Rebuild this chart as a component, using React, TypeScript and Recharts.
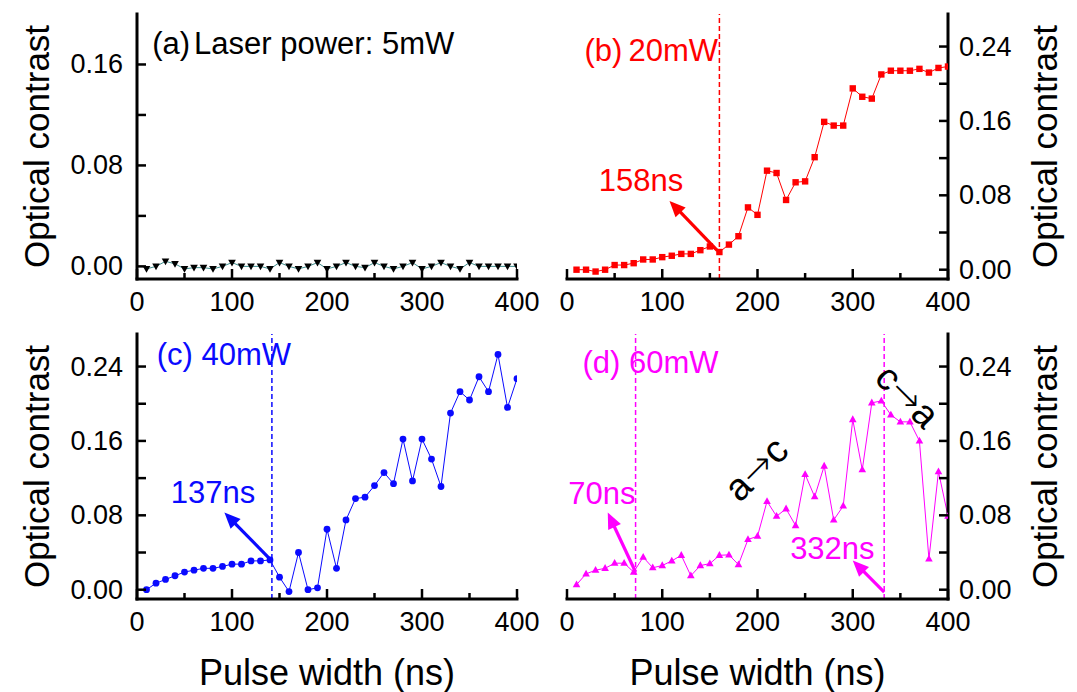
import React from 'react';
import { LineChart, Line, XAxis, YAxis, ReferenceLine, ReferenceDot } from 'recharts';

const FONT = '"Liberation Sans", Arial, Helvetica, sans-serif';

const PULSE_NS = [10, 20, 30, 40, 50, 60, 70, 80, 90, 100, 110, 120, 130, 140, 150, 160, 170, 180, 190, 200, 210, 220, 230, 240, 250, 260, 270, 280, 290, 300, 310, 320, 330, 340, 350, 360, 370, 380, 390, 400];

const CONTRAST_5MW = [-0.002, 0, 0.004, 0.002, -0.002, -0.001, -0.001, -0.002, 0, 0.003, 0, 0, 0, -0.002, 0.003, 0, -0.002, 0, 0.003, -0.002, 0, 0.003, 0, -0.001, 0.003, 0, -0.002, 0, 0.003, -0.002, 0, 0.003, 0, -0.002, 0.003, 0, 0, 0, 0, 0];
const CONTRAST_20MW = [0, 0, -0.002, 0, 0.005, 0.005, 0.007, 0.011, 0.011, 0.0135, 0.015, 0.017, 0.017, 0.021, 0.025, 0.019, 0.027, 0.036, 0.067, 0.059, 0.1065, 0.104, 0.075, 0.094, 0.095, 0.121, 0.159, 0.155, 0.155, 0.195, 0.186, 0.184, 0.21, 0.214, 0.214, 0.214, 0.216, 0.212, 0.217, 0.2185];
const CONTRAST_40MW = [0, 0.007, 0.011, 0.015, 0.019, 0.021, 0.023, 0.023, 0.025, 0.0275, 0.0275, 0.031, 0.031, 0.032, 0.0135, -0.002, 0.04, 0, 0.002, 0.065, 0.023, 0.075, 0.098, 0.0995, 0.112, 0.126, 0.114, 0.162, 0.117, 0.162, 0.1405, 0.111, 0.19, 0.213, 0.204, 0.229, 0.213, 0.253, 0.196, 0.227];
const CONTRAST_60MW = [0.0054, 0.017, 0.021, 0.023, 0.0285, 0.0285, 0.019, 0.035, 0.0236, 0.026, 0.031, 0.037, 0.015, 0.026, 0.028, 0.037, 0.0375, 0.027, 0.054, 0.0575, 0.095, 0.079, 0.087, 0.069, 0.124, 0.1, 0.133, 0.075, 0.09, 0.183, 0.129, 0.201, 0.203, 0.188, 0.1805, 0.1805, 0.16, 0.033, 0.127, 0.079];

const X_TICKS = [0, 50, 100, 150, 200, 250, 300, 350, 400];
const Y_TICKS_A = [0, 0.04, 0.08, 0.12, 0.16];
const Y_TICKS_BCD = [0, 0.04, 0.08, 0.12, 0.16, 0.2, 0.24];

const data = PULSE_NS.map((x, i) => ({
  x,
  a: CONTRAST_5MW[i],
  b: CONTRAST_20MW[i],
  c: CONTRAST_40MW[i],
  d: CONTRAST_60MW[i],
}));

const frame = { stroke: '#000', strokeWidth: 3, strokeLinecap: 'square' as const };

const XTick = (props: any) => {
  const { x, y, payload } = props;
  const v = payload.value as number;
  const major = v % 100 === 0;
  return (
    <g>
      <line x1={x} x2={x} y1={y} y2={y - (major ? 10 : 6)} stroke="#000" strokeWidth={2.5} />
      {major && (
        <text x={x} y={y + 23} textAnchor="middle" dominantBaseline="central" fontSize={27} fontFamily={FONT} fill="#000">
          {v}
        </text>
      )}
    </g>
  );
};

const makeYTick = (side: 'left' | 'right') => (props: any) => {
  const { x, y, payload } = props;
  const v = payload.value as number;
  const major = Math.round(v * 100) % 8 === 0;
  const dir = side === 'left' ? 1 : -1;
  return (
    <g>
      <line x1={x} x2={x + dir * 9} y1={y} y2={y} stroke="#000" strokeWidth={2.5} />
      {major && (
        <text
          x={side === 'left' ? x - 14 : x + 11}
          y={y}
          textAnchor={side === 'left' ? 'end' : 'start'}
          dominantBaseline="central"
          fontSize={27}
          fontFamily={FONT}
          fill="#000"
        >
          {v.toFixed(2)}
        </text>
      )}
    </g>
  );
};

type MarkerKind = 'tri-down' | 'square' | 'circle' | 'tri-up';

const makeDot = (kind: MarkerKind, color: string) => (p: any) => {
  const { cx, cy, index } = p;
  if (cx == null || cy == null) return <g key={index} />;
  if (kind === 'square') return <rect key={index} x={cx - 3.2} y={cy - 3.2} width={6.4} height={6.4} fill={color} />;
  if (kind === 'circle') return <circle key={index} cx={cx} cy={cy} r={3.4} fill={color} />;
  if (kind === 'tri-up')
    return <polygon key={index} points={`${cx},${cy - 4.2} ${cx - 3.8},${cy + 2.6} ${cx + 3.8},${cy + 2.6}`} fill={color} />;
  return <polygon key={index} points={`${cx},${cy + 3.8} ${cx - 3.8},${cy - 2.8} ${cx + 3.8},${cy - 2.8}`} fill={color} />;
};

const arrowShape = (color: string) => (p: any) => {
  const { x1, y1, x2, y2 } = p;
  const dx = x2 - x1;
  const dy = y2 - y1;
  const len = Math.hypot(dx, dy) || 1;
  const ux = dx / len;
  const uy = dy / len;
  const headLen = 16;
  const headW = 7;
  const bx = x2 - ux * headLen;
  const by = y2 - uy * headLen;
  return (
    <g>
      <line x1={x1} y1={y1} x2={bx + ux * 2} y2={by + uy * 2} stroke={color} strokeWidth={3.2} />
      <polygon points={`${x2},${y2} ${bx - uy * headW},${by + ux * headW} ${bx + uy * headW},${by - ux * headW}`} fill={color} />
    </g>
  );
};

const textShape = (
  content: React.ReactNode,
  color: string,
  fontSize: number,
  anchor: 'start' | 'middle' | 'end' = 'middle',
  rotate = 0,
) => (p: any) => (
  <text
    x={p.cx}
    y={p.cy}
    fill={color}
    fontSize={fontSize}
    fontFamily={FONT}
    textAnchor={anchor}
    dominantBaseline="central"
    transform={rotate ? `rotate(${rotate} ${p.cx} ${p.cy})` : undefined}
  >
    {content}
  </text>
);

const transition = (from: string, to: string) => (
  <>
    <tspan>{from}</tspan>
    <tspan fontFamily='"DejaVu Sans", sans-serif' fontWeight={200}>→</tspan>
    <tspan>{to}</tspan>
  </>
);

type PanelProps = {
  left: number;
  top: number;
  width: number;
  height: number;
  side: 'left' | 'right';
  sideGap: number;
  axisSize: number;
  xAxisHeight: number;
  dataKey: string;
  color: string;
  lineColor: string;
  yMax: number;
  yTicks: number[];
  marker: MarkerKind;
  children?: React.ReactNode;
};

const Panel = (p: PanelProps) => {
  const margin =
    p.side === 'left'
      ? { top: 14, right: p.sideGap, bottom: 0, left: 0 }
      : { top: 14, right: 0, bottom: 0, left: p.sideGap };
  return (
    <div style={{ position: 'absolute', left: p.left, top: p.top, width: p.width, height: p.height }}>
      <LineChart width={p.width} height={p.height} data={data} margin={margin}>
        <XAxis
          dataKey="x"
          type="number"
          domain={[0, 400]}
          ticks={X_TICKS}
          allowDataOverflow
          height={p.xAxisHeight}
          tickSize={0}
          tickMargin={0}
          tickLine={false}
          axisLine={frame}
          tick={XTick}
          interval={0}
        />
        <XAxis xAxisId="top" orientation="top" type="number" domain={[0, 400]} height={0} tick={false} tickLine={false} axisLine={frame} />
        <YAxis
          type="number"
          orientation={p.side}
          domain={[-0.01, p.yMax]}
          ticks={p.yTicks}
          allowDataOverflow
          width={p.axisSize}
          tickSize={0}
          tickMargin={0}
          tickLine={false}
          axisLine={frame}
          tick={makeYTick(p.side)}
          interval={0}
        />
        <YAxis
          yAxisId="frame"
          orientation={p.side === 'left' ? 'right' : 'left'}
          type="number"
          domain={[0, 1]}
          width={0}
          tick={false}
          tickLine={false}
          axisLine={frame}
        />
        {p.children}
        <Line
          type="linear"
          dataKey={p.dataKey}
          stroke={p.lineColor}
          strokeWidth={1}
          dot={makeDot(p.marker, p.color)}
          activeDot={false}
          isAnimationActive={false}
        />
      </LineChart>
    </div>
  );
};

const RED = '#ff0000';
const BLUE = '#0a0aff';
const MAGENTA = '#ff00ff';

export default function App() {
  const titleStyle = { fontFamily: FONT, fill: '#000' };
  return (
    <div style={{ position: 'absolute', left: 0, top: 0, width: 1077, height: 692, background: '#fff', overflow: 'hidden' }}>
      <Panel left={0} top={0} width={545} height={330} side="left" sideGap={28} axisSize={137} xAxisHeight={51}
        dataKey="a" color="#000" lineColor="#3d8c8c" yMax={0.2} yTicks={Y_TICKS_A} marker="tri-down">
        <ReferenceDot x={16} y={0.177} r={0} shape={textShape(<><tspan>(a)</tspan><tspan dx={4}>Laser power: 5mW</tspan></>, '#000', 31, 'start')} />
      </Panel>

      <Panel left={540} top={0} width={537} height={330} side="right" sideGap={27} axisSize={129} xAxisHeight={51}
        dataKey="b" color={RED} lineColor={RED} yMax={0.275} yTicks={Y_TICKS_BCD} marker="square">
        <ReferenceLine x={160} stroke={RED} strokeWidth={1.5} strokeDasharray="5 3" />
        <ReferenceDot x={18.4} y={0.2367} r={0} shape={textShape(<><tspan>(b)</tspan><tspan dx={6}>20mW</tspan></>, RED, 31, 'start')} />
        <ReferenceDot x={77.6} y={0.0955} r={0} shape={textShape('158ns', RED, 31)} />
        <ReferenceLine segment={[{ x: 157.9, y: 0.0206 }, { x: 107.6, y: 0.074 }]} shape={arrowShape(RED)} />
      </Panel>

      <Panel left={0} top={320} width={545} height={372} side="left" sideGap={28} axisSize={137} xAxisHeight={93}
        dataKey="c" color={BLUE} lineColor={BLUE} yMax={0.275} yTicks={Y_TICKS_BCD} marker="circle">
        <ReferenceLine x={142} stroke={BLUE} strokeWidth={1.5} strokeDasharray="5 3" />
        <ReferenceDot x={20.7} y={0.253} r={0} shape={textShape('(c) 40mW', BLUE, 31, 'start')} />
        <ReferenceDot x={80} y={0.1047} r={0} shape={textShape('137ns', BLUE, 31)} />
        <ReferenceLine segment={[{ x: 140, y: 0.033 }, { x: 92, y: 0.083 }]} shape={arrowShape(BLUE)} />
      </Panel>

      <Panel left={540} top={320} width={537} height={372} side="right" sideGap={27} axisSize={129} xAxisHeight={93}
        dataKey="d" color={MAGENTA} lineColor={MAGENTA} yMax={0.275} yTicks={Y_TICKS_BCD} marker="tri-up">
        <ReferenceLine x={72} stroke={MAGENTA} strokeWidth={1.5} strokeDasharray="5 3" />
        <ReferenceLine x={333} stroke={MAGENTA} strokeWidth={1.5} strokeDasharray="5 3" />
        <ReferenceDot x={16.3} y={0.244} r={0} shape={textShape('(d) 60mW', MAGENTA, 31, 'start')} />
        <ReferenceDot x={36.7} y={0.1033} r={0} shape={textShape('70ns', MAGENTA, 31)} />
        <ReferenceDot x={278.6} y={0.044} r={0} shape={textShape('332ns', MAGENTA, 31)} />
        <ReferenceLine segment={[{ x: 72, y: 0.019 }, { x: 42.8, y: 0.083 }]} shape={arrowShape(MAGENTA)} />
        <ReferenceLine segment={[{ x: 333, y: -0.0026 }, { x: 300, y: 0.0314 }]} shape={arrowShape(MAGENTA)} />
        <ReferenceDot x={198.5} y={0.13} r={0} shape={textShape(transition('a', 'c'), '#000', 38, 'middle', -45)} />
        <ReferenceDot x={357.6} y={0.2084} r={0} shape={textShape(transition('c', 'a'), '#000', 38, 'middle', 45)} />
      </Panel>

      <svg width={1077} height={692} style={{ position: 'absolute', left: 0, top: 0, pointerEvents: 'none' }}>
        <text x={36} y={146.5} transform="rotate(-90 36 146.5)" textAnchor="middle" dominantBaseline="central" fontSize={35} {...titleStyle}>Optical contrast</text>
        <text x={36} y={466.5} transform="rotate(-90 36 466.5)" textAnchor="middle" dominantBaseline="central" fontSize={35} {...titleStyle}>Optical contrast</text>
        <text x={1044} y={146.5} transform="rotate(-90 1044 146.5)" textAnchor="middle" dominantBaseline="central" fontSize={35} {...titleStyle}>Optical contrast</text>
        <text x={1044} y={466.5} transform="rotate(-90 1044 466.5)" textAnchor="middle" dominantBaseline="central" fontSize={35} {...titleStyle}>Optical contrast</text>
        <text x={327} y={685} textAnchor="middle" fontSize={36} {...titleStyle}>Pulse width (ns)</text>
        <text x={757.5} y={685} textAnchor="middle" fontSize={36} {...titleStyle}>Pulse width (ns)</text>
      </svg>
    </div>
  );
}
